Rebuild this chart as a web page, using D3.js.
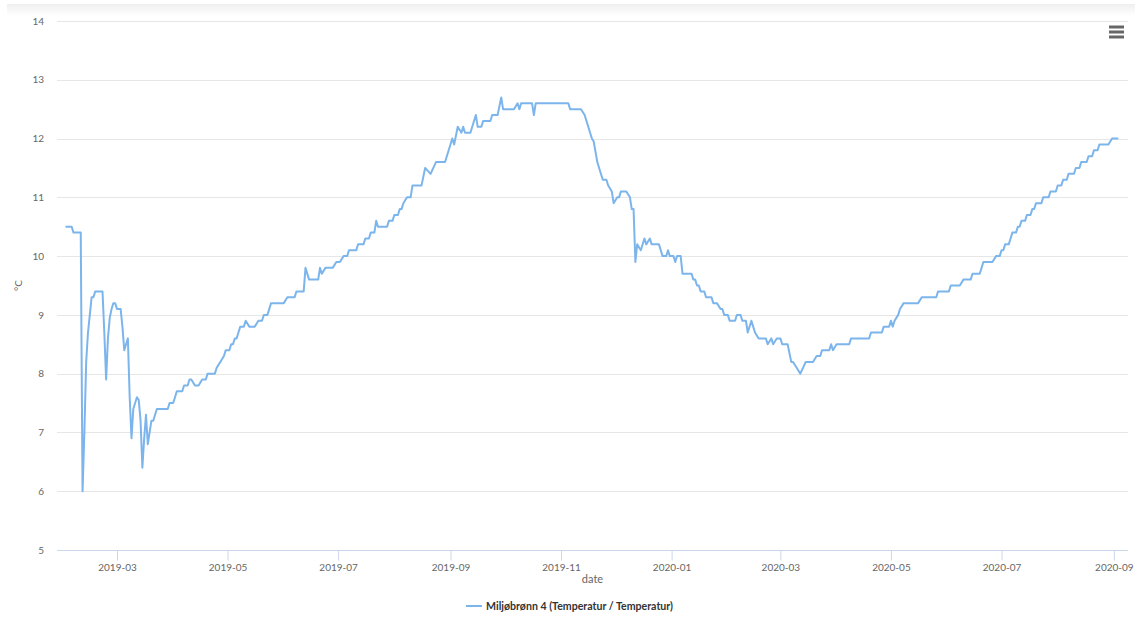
<!DOCTYPE html>
<html>
<head>
<meta charset="utf-8">
<script src="https://cdn.jsdelivr.net/npm/d3@7"></script>
<style>
  html, body { margin: 0; padding: 0; background: #fff; }
  svg { display: block; font-family: Lato, "Open Sans", sans-serif; }
</style>
</head>
<body>
<svg id="chart" width="1135" height="618"></svg>
<script>
// Well temperature readings, Miljøbrønn 4
const dates = [
  "2019-02-01","2019-02-04","2019-02-05","2019-02-09","2019-02-10","2019-02-11","2019-02-12","2019-02-13",
  "2019-02-14","2019-02-15","2019-02-16","2019-02-17","2019-02-21","2019-02-22","2019-02-23","2019-02-24",
  "2019-02-25","2019-02-26","2019-02-27","2019-02-28","2019-03-01","2019-03-03","2019-03-04","2019-03-05",
  "2019-03-06","2019-03-07","2019-03-08","2019-03-09","2019-03-10","2019-03-11","2019-03-12","2019-03-13",
  "2019-03-14","2019-03-15","2019-03-16","2019-03-17","2019-03-18","2019-03-19","2019-03-20","2019-03-21",
  "2019-03-22","2019-03-23","2019-03-29","2019-03-30","2019-04-01","2019-04-02","2019-04-03","2019-04-06",
  "2019-04-07","2019-04-09","2019-04-10","2019-04-11","2019-04-13","2019-04-15","2019-04-17","2019-04-19",
  "2019-04-20","2019-04-24","2019-04-25","2019-04-27","2019-04-29","2019-04-30","2019-05-02","2019-05-03",
  "2019-05-04","2019-05-05","2019-05-06","2019-05-07","2019-05-08","2019-05-10","2019-05-11","2019-05-13",
  "2019-05-16","2019-05-18","2019-05-20","2019-05-21","2019-05-23","2019-05-25","2019-06-01","2019-06-03",
  "2019-06-07","2019-06-08","2019-06-12","2019-06-13","2019-06-15","2019-06-20","2019-06-21","2019-06-22",
  "2019-06-24","2019-06-28","2019-06-30","2019-07-02","2019-07-04","2019-07-06","2019-07-07","2019-07-11",
  "2019-07-12","2019-07-15","2019-07-16","2019-07-18","2019-07-19","2019-07-21","2019-07-22","2019-07-23",
  "2019-07-28","2019-07-29","2019-07-31","2019-08-01","2019-08-03","2019-08-04","2019-08-05","2019-08-06",
  "2019-08-08","2019-08-10","2019-08-11","2019-08-16","2019-08-18","2019-08-21","2019-08-24","2019-08-29",
  "2019-08-31","2019-09-02","2019-09-03","2019-09-05","2019-09-07","2019-09-08","2019-09-09","2019-09-12",
  "2019-09-13","2019-09-15","2019-09-16","2019-09-18","2019-09-19","2019-09-23","2019-09-24","2019-09-27",
  "2019-09-29","2019-09-30","2019-10-06","2019-10-08","2019-10-09","2019-10-10","2019-10-16","2019-10-17",
  "2019-10-18","2019-11-05","2019-11-06","2019-11-12","2019-11-14","2019-11-16","2019-11-18","2019-11-19",
  "2019-11-21","2019-11-22","2019-11-24","2019-11-26","2019-11-27","2019-11-29","2019-11-30","2019-12-02",
  "2019-12-03","2019-12-04","2019-12-07","2019-12-09","2019-12-10","2019-12-11","2019-12-12","2019-12-13",
  "2019-12-15","2019-12-17","2019-12-18","2019-12-20","2019-12-21","2019-12-25","2019-12-27","2019-12-29",
  "2019-12-30","2019-12-31","2020-01-02","2020-01-03","2020-01-04","2020-01-06","2020-01-07","2020-01-12",
  "2020-01-13","2020-01-14","2020-01-15","2020-01-16","2020-01-17","2020-01-19","2020-01-20","2020-01-23",
  "2020-01-24","2020-01-26","2020-01-28","2020-01-29","2020-01-30","2020-02-01","2020-02-02","2020-02-05",
  "2020-02-06","2020-02-08","2020-02-09","2020-02-11","2020-02-12","2020-02-14","2020-02-15","2020-02-16",
  "2020-02-18","2020-02-22","2020-02-23","2020-02-25","2020-02-26","2020-02-28","2020-03-01","2020-03-02",
  "2020-03-05","2020-03-07","2020-03-08","2020-03-10","2020-03-12","2020-03-15","2020-03-19","2020-03-21",
  "2020-03-23","2020-03-24","2020-03-28","2020-03-29","2020-03-30","2020-04-01","2020-04-08","2020-04-09",
  "2020-04-19","2020-04-20","2020-04-26","2020-04-27","2020-04-30","2020-05-01","2020-05-02","2020-05-03",
  "2020-05-05","2020-05-06","2020-05-08","2020-05-16","2020-05-18","2020-05-26","2020-05-27","2020-06-02",
  "2020-06-03","2020-06-08","2020-06-10","2020-06-14","2020-06-15","2020-06-19","2020-06-20","2020-06-21",
  "2020-06-26","2020-06-28","2020-06-30","2020-07-01","2020-07-02","2020-07-03","2020-07-05","2020-07-06",
  "2020-07-07","2020-07-09","2020-07-10","2020-07-11","2020-07-12","2020-07-14","2020-07-15","2020-07-17",
  "2020-07-18","2020-07-19","2020-07-20","2020-07-23","2020-07-24","2020-07-27","2020-07-28","2020-07-31",
  "2020-08-01","2020-08-03","2020-08-04","2020-08-06","2020-08-07","2020-08-10","2020-08-11","2020-08-13",
  "2020-08-14","2020-08-17","2020-08-18","2020-08-20","2020-08-21","2020-08-23","2020-08-24","2020-08-29",
  "2020-08-31","2020-09-03"
];

const temperature = [
  10.5,10.5,10.4,10.4,6.0,7.0,8.2,8.7,
  9.0,9.3,9.3,9.4,9.4,8.7,7.9,8.6,
  8.95,9.1,9.2,9.2,9.1,9.1,8.8,8.4,
  8.5,8.6,7.6,6.9,7.4,7.5,7.6,7.55,
  7.2,6.4,6.9,7.3,6.8,7.0,7.2,7.2,
  7.3,7.4,7.4,7.5,7.5,7.6,7.7,7.7,
  7.8,7.8,7.9,7.9,7.8,7.8,7.9,7.9,
  8.0,8.0,8.1,8.2,8.3,8.4,8.4,8.5,
  8.5,8.6,8.6,8.7,8.8,8.8,8.9,8.8,
  8.8,8.9,8.9,9.0,9.0,9.2,9.2,9.3,
  9.3,9.4,9.4,9.8,9.6,9.6,9.8,9.7,
  9.8,9.8,9.9,9.9,10.0,10.0,10.1,10.1,
  10.2,10.2,10.3,10.3,10.4,10.4,10.6,10.5,
  10.5,10.6,10.6,10.7,10.7,10.8,10.8,10.9,
  11.0,11.0,11.2,11.2,11.5,11.4,11.6,11.6,
  11.8,12.0,11.9,12.2,12.1,12.2,12.1,12.1,
  12.2,12.4,12.2,12.2,12.3,12.3,12.4,12.4,
  12.7,12.5,12.5,12.6,12.5,12.6,12.6,12.4,
  12.6,12.6,12.5,12.5,12.4,12.2,12.0,11.95,
  11.6,11.5,11.3,11.3,11.2,11.1,10.9,11.0,
  11.0,11.1,11.1,11.0,10.8,10.8,9.9,10.2,
  10.1,10.3,10.2,10.3,10.2,10.2,10.0,10.0,
  10.1,10.0,10.0,9.9,10.0,10.0,9.7,9.7,
  9.6,9.6,9.5,9.5,9.4,9.4,9.3,9.3,
  9.2,9.2,9.1,9.1,9.0,9.0,8.9,8.9,
  9.0,9.0,8.9,8.9,8.7,8.9,8.8,8.7,
  8.6,8.6,8.5,8.6,8.5,8.6,8.6,8.5,
  8.5,8.2,8.2,8.1,8.0,8.2,8.2,8.3,
  8.3,8.4,8.4,8.5,8.4,8.5,8.5,8.6,
  8.6,8.7,8.7,8.8,8.8,8.9,8.8,8.9,
  9.0,9.1,9.2,9.2,9.3,9.3,9.4,9.4,
  9.5,9.5,9.6,9.6,9.7,9.7,9.8,9.9,
  9.9,10.0,10.0,10.1,10.1,10.2,10.2,10.3,
  10.4,10.4,10.5,10.5,10.6,10.6,10.7,10.7,
  10.8,10.8,10.9,10.9,11.0,11.0,11.1,11.1,
  11.2,11.2,11.3,11.3,11.4,11.4,11.5,11.5,
  11.6,11.6,11.7,11.7,11.8,11.8,11.9,11.9,
  12.0,12.0
];

const xTicks = ["2019-03-01","2019-05-01","2019-07-01","2019-09-01","2019-11-01",
                "2020-01-01","2020-03-01","2020-05-01","2020-07-01","2020-09-01"];
const yTicks = [5, 6, 7, 8, 9, 10, 11, 12, 13, 14];
const seriesName = "Miljøbrønn 4 (Temperatur / Temperatur)";
const xTitle = "date";
const yTitle = "°C";

const parse = d3.timeParse("%Y-%m-%d");
const data = dates.map((d, i) => ({ date: parse(d), value: temperature[i] }));

const svg = d3.select("#chart");
const W = 1135;
const plot = { left: 57, right: 1128, top: 21, bottom: 550 };

// faint header band across the top
const defs = svg.append("defs");
const grad = defs.append("linearGradient").attr("id", "band").attr("x1", 0).attr("y1", 0).attr("x2", 0).attr("y2", 1);
grad.append("stop").attr("offset", "0%").attr("stop-color", "#efefef");
grad.append("stop").attr("offset", "100%").attr("stop-color", "#ffffff");
svg.append("rect").attr("x", 7).attr("y", 4).attr("width", W - 7).attr("height", 12).attr("fill", "url(#band)");

const x = d3.scaleTime()
  .domain([new Date(2019, 0, 26, 21, 36), new Date(2020, 8, 8, 19, 0)])
  .range([plot.left, plot.right]);
const y = d3.scaleLinear().domain([5, 14]).range([plot.bottom, plot.top]);

// horizontal grid lines
svg.append("g")
  .selectAll("line")
  .data(yTicks)
  .join("line")
  .attr("x1", plot.left).attr("x2", plot.right)
  .attr("y1", d => Math.round(y(d)) + 0.5).attr("y2", d => Math.round(y(d)) + 0.5)
  .attr("stroke", "#e6e6e6").attr("stroke-width", 1);

// y axis labels
const yAxis = d3.axisLeft(y).tickValues(yTicks).tickSize(0).tickPadding(0).tickFormat(d3.format("d"));
const gy = svg.append("g").attr("transform", `translate(${plot.left - 13},0)`).call(yAxis);
gy.select(".domain").remove();
gy.selectAll("text").attr("fill", "#666").attr("font-size", "10px").attr("font-family", "Lato, sans-serif");

// x axis
const xAxis = d3.axisBottom(x)
  .tickValues(xTicks.map(parse))
  .tickSize(10)
  .tickPadding(3)
  .tickFormat(d3.timeFormat("%Y-%m"));
const gx = svg.append("g").attr("transform", `translate(0,${plot.bottom + 0.5})`).call(xAxis);
gx.select(".domain").attr("d", `M${plot.left},0H${plot.right}`).attr("stroke", "#ccd6eb");
gx.selectAll(".tick line").attr("stroke", "#ccd6eb");
gx.selectAll("text").attr("fill", "#666").attr("font-size", "10px").attr("font-family", "Lato, sans-serif");

// axis titles
svg.append("text")
  .attr("x", (plot.left + plot.right) / 2).attr("y", 583)
  .attr("text-anchor", "middle").attr("fill", "#666").attr("font-size", "11px")
  .text(xTitle);
svg.append("text")
  .attr("transform", `translate(22,${(plot.top + plot.bottom) / 2}) rotate(-90)`)
  .attr("text-anchor", "middle").attr("fill", "#666").attr("font-size", "10px")
  .text(yTitle);

// temperature line
const line = d3.line().x(d => x(d.date)).y(d => y(d.value)).curve(d3.curveLinear);
svg.append("path")
  .datum(data)
  .attr("d", line)
  .attr("fill", "none")
  .attr("stroke", "#7cb5ec")
  .attr("stroke-width", 2)
  .attr("stroke-linejoin", "round")
  .attr("stroke-linecap", "round");

// legend
const legend = svg.append("g").attr("transform", "translate(466,606)");
legend.append("line").attr("x1", 0).attr("x2", 16).attr("y1", 0).attr("y2", 0)
  .attr("stroke", "#7cb5ec").attr("stroke-width", 2);
legend.append("text").attr("x", 20).attr("y", 3.7)
  .attr("fill", "#333").attr("font-size", "10.6px").attr("font-weight", "bold")
  .text(seriesName);

// context menu button
const menu = svg.append("g").attr("transform", "translate(1109,27)");
menu.selectAll("line").data([0, 5, 10]).join("line")
  .attr("x1", 0).attr("x2", 15).attr("y1", d => d).attr("y2", d => d)
  .attr("stroke", "#666").attr("stroke-width", 3);
</script>
</body>
</html>
